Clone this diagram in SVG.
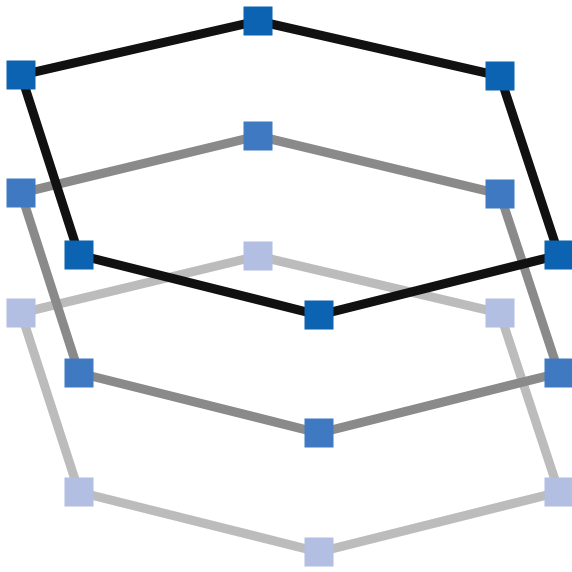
<svg xmlns="http://www.w3.org/2000/svg" width="572" height="572" viewBox="0 0 572 572">
<style>
.edge{fill:none;stroke-width:9;stroke-linejoin:miter}
.e1{stroke:#111111}
.e2{stroke:#8a8a8a}
.e3{stroke:#bcbcbc}
.n1{fill:#0b63b1}
.n2{fill:#3f79c1}
.n3{fill:#b2bee2}
</style>
<rect width="572" height="572" fill="#ffffff"/>
<g id="connectors">
<polygon class="edge e3" points="258,256 500,313 559,492 319,552 79,492 21,313"/>
</g>
<g id="layer3">
<rect id="n3a" class="n3" x="243.5" y="241.5" width="29" height="29"/>
<rect id="n3b" class="n3" x="485.5" y="298.5" width="29" height="29"/>
<rect id="n3c" class="n3" x="544.5" y="477.5" width="29" height="29"/>
<rect id="n3d" class="n3" x="304.5" y="537.5" width="29" height="29"/>
<rect id="n3e" class="n3" x="64.5" y="477.5" width="29" height="29"/>
<rect id="n3f" class="n3" x="6.5" y="298.5" width="29" height="29"/>
</g>
<g id="connectors2">
<polygon class="edge e2" points="258,136 500,194 559,373 319,433 79,373 21,193"/>
</g>
<g id="layer2">
<rect id="n2a" class="n2" x="243.5" y="121.5" width="29" height="29"/>
<rect id="n2b" class="n2" x="485.5" y="179.5" width="29" height="29"/>
<rect id="n2c" class="n2" x="544.5" y="358.5" width="29" height="29"/>
<rect id="n2d" class="n2" x="304.5" y="418.5" width="29" height="29"/>
<rect id="n2e" class="n2" x="64.5" y="358.5" width="29" height="29"/>
<rect id="n2f" class="n2" x="6.5" y="178.5" width="29" height="29"/>
</g>
<g id="connectors1">
<polygon class="edge e1" points="258,21 500,76 559,255 319,315 79,255 21,75"/>
</g>
<g id="layer1">
<rect id="n1a" class="n1" x="243.5" y="6.5" width="29" height="29"/>
<rect id="n1b" class="n1" x="485.5" y="61.5" width="29" height="29"/>
<rect id="n1c" class="n1" x="544.5" y="240.5" width="29" height="29"/>
<rect id="n1d" class="n1" x="304.5" y="300.5" width="29" height="29"/>
<rect id="n1e" class="n1" x="64.5" y="240.5" width="29" height="29"/>
<rect id="n1f" class="n1" x="6.5" y="60.5" width="29" height="29"/>
</g>
</svg>
